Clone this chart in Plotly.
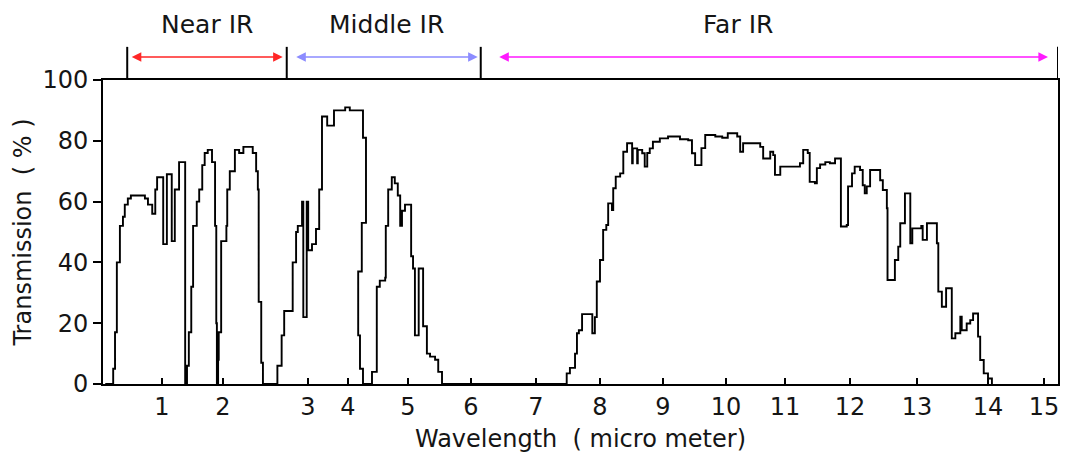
import numpy as np
import plotly.graph_objects as go

# ---------------- data ----------------
# Transmission trace, traced as a stepped line: wavelength (micrometer) where each level starts
wavelength_um = [
    0.07, 0.20, 0.23, 0.26, 0.31, 0.36, 0.39, 0.44, 0.49, 0.72, 0.77, 0.84, 0.89, 0.92,
    1.02, 1.08, 1.16, 1.21, 1.28, 1.38,
    1.41, 1.44, 1.48, 1.51, 1.57, 1.61, 1.66, 1.70, 1.75, 1.82, 1.87, 1.89, 1.90,
    1.92, 1.93, 1.97, 2.04, 2.05, 2.08, 2.14, 2.19, 2.24, 2.35, 2.39, 2.41, 2.42, 2.45, 2.47,
    2.64, 2.69, 2.72, 2.82, 2.86, 2.88, 2.93, 2.945, 2.985, 3.005, 3.10, 3.20, 3.28, 3.35,
    3.48, 3.65, 3.93, 4.03, 4.25, 4.30, 4.23, 4.17, 4.20, 4.25,
    4.35, 4.40, 4.48, 4.53, 4.62, 4.63, 4.67, 4.73, 4.78, 4.83, 4.87, 4.90, 4.95,
    5.05, 5.08, 5.11, 5.17, 5.24, 5.30, 5.35, 5.43, 5.48, 5.54,
    7.48, 7.53, 7.61, 7.64, 7.67, 7.72, 7.88, 7.92, 7.95, 8.00, 8.05, 8.10, 8.13, 8.19,
    8.21, 8.25, 8.32, 8.37, 8.43, 8.51, 8.52, 8.59, 8.60, 8.67, 8.71, 8.75, 8.79, 8.84,
    8.95, 9.08, 9.27, 9.40, 9.46, 9.51, 9.61, 9.67, 9.83, 9.94, 10.03, 10.19, 10.24,
    10.29, 10.58, 10.63, 10.75, 10.80, 10.83, 10.92, 11.23, 11.28, 11.35, 11.38, 11.46,
    11.49, 11.54, 11.62, 11.69, 11.77, 11.86, 11.95, 11.97, 12.03, 12.07, 12.15, 12.19,
    12.22, 12.25, 12.30, 12.45, 12.49, 12.55, 12.56, 12.67, 12.72, 12.75, 12.82, 12.90,
    12.93, 13.06, 13.08, 13.14, 13.28, 13.30, 13.35, 13.41, 13.49, 13.54, 13.61, 13.63,
    13.70, 13.75, 13.79, 13.86, 13.89, 13.94, 14.00, 14.07,
]
transmission_pct = [
    0, 5, 17, 40, 52, 55, 59, 61, 62, 61, 59, 56, 64, 68,
    46, 69, 47, 64, 73, 0,
    6, 17, 32, 52, 60, 64, 72, 76, 77, 73, 52, 20, 0,
    8, 17, 47, 52, 64, 70, 77, 76, 78, 76, 70, 64, 27, 7, 0,
    6, 16, 24, 40, 50, 52, 60, 22, 60, 44, 46, 51, 64, 88,
    85, 90, 91, 90, 81, 53, 37, 16, 5, 0,
    0, 4, 32, 34, 35, 52, 64, 68, 66, 62, 52, 57, 59,
    42, 38, 16, 38, 19, 10, 9, 8, 4, 0,
    3.5, 5.3, 10, 16.7, 17.7, 23, 16.7, 22, 33.7, 40.8, 50.7, 52.3, 59.4, 57.2,
    64.4, 68.2, 69.3, 76.4, 79.2, 72.6, 77.5, 72.6, 77, 75.9, 71.5, 76, 77.5, 79.7,
    80.8, 81.4, 80.5, 80.2, 75.9, 72, 77.6, 81.9, 81.4, 81, 82.5, 81.4, 76.4,
    79.2, 78, 74.2, 76.4, 75.3, 68.8, 71.5, 72.6, 77, 76, 66.5, 66,
    71, 72.2, 73, 72.6, 74.2, 51.8, 52.3, 65, 69.3, 71.5, 70.4, 65.4,
    62.7, 65, 70.4, 67, 63.8, 57.8, 34.2, 40.8, 45.2, 52.9, 62.7, 46.3,
    51.2, 52, 47.4, 52.9, 46.3, 30.4, 25.4, 31.5, 15, 16.7, 22.1, 17.7,
    19.9, 21, 23.2, 15.6, 7.9, 3.5, 1.8, 0,
]

# x tick labels (micrometer)
tick_um = [1, 2, 3, 4, 5, 6, 7, 8, 9, 10, 11, 12, 13, 14, 15]
tick_labels = [str(t) for t in tick_um]
y_ticks = [0, 20, 40, 60, 80, 100]

# IR bands above the chart
band_names = ["Near IR", "Middle IR", "Far IR"]
band_edges_um = [0.43, 2.75, 6.15, 15.25]
band_label_um = [1.74, 4.65, 10.2]

# ---------------- scale: the original axis is drawn piecewise (uneven tick spacing) ----------------
SCALE_UM = [0] + tick_um + [15.25]
SCALE_POS = [101, 162, 223, 308, 348, 408, 471, 536, 600, 663, 726, 785, 850, 917, 988, 1044, 1058]


def to_axis(um):
    return np.interp(um, SCALE_UM, SCALE_POS)


FONT = "DejaVu Sans, Arial, sans-serif"
TXT = "#151515"

fig = go.Figure()
fig.add_trace(go.Scatter(
    x=to_axis(np.array(wavelength_um)), y=transmission_pct, mode="lines",
    line=dict(color="black", width=1.9, shape="hv"), showlegend=False,
    hovertemplate="%{y}%<extra></extra>",
))

# band separators and arrows
y_top = 1.0
y_sep = 1.109
y_arrow = 1.0757
for e in band_edges_um:
    fig.add_shape(type="line", xref="x", yref="paper", x0=to_axis(e), x1=to_axis(e),
                  y0=y_top, y1=y_sep, line=dict(color="black", width=2))

arrow_colors = ["#ff2626", "#8c8cff", "#ff1aff"]
arrow_pad = [(3, 4), (8, 3), (17, 10)]
for i, name in enumerate(band_names):
    x0 = to_axis(band_edges_um[i]) + arrow_pad[i][0]
    x1 = to_axis(band_edges_um[i + 1]) - arrow_pad[i][1]
    fig.add_annotation(x=x1, y=y_arrow, xref="x", yref="paper", ax=x0, ay=0,
                       axref="x", ayref="pixel", text="", showarrow=True,
                       arrowhead=2, startarrowhead=2, arrowside="end+start",
                       arrowsize=1.2, startarrowsize=1.2, arrowwidth=1.6,
                       arrowcolor=arrow_colors[i])
    fig.add_annotation(x=to_axis(band_label_um[i]), y=1.181, xref="x", yref="paper",
                       text=name, showarrow=False, yanchor="middle",
                       font=dict(family=FONT, size=25, color=TXT))

# the page body adds an 8px offset, so the figure is sized/margined to compensate
fig.update_layout(
    width=1060, height=447,
    margin=dict(l=95, r=10, t=72, b=71),
    paper_bgcolor="white", plot_bgcolor="white",
    font=dict(family=FONT, size=24, color=TXT),
    xaxis=dict(
        range=[to_axis(0.033), to_axis(15.25)], automargin=False,
        tickvals=to_axis(np.array(tick_um)), ticktext=tick_labels,
        ticks="inside", ticklen=6, tickwidth=1.5, tickcolor="black",
        showline=True, linewidth=2, linecolor="black", mirror=True,
        showgrid=False, zeroline=False,
        tickfont=dict(family=FONT, size=24, color=TXT),
        title=dict(text="Wavelength  ( micro meter)", standoff=10,
                   font=dict(family=FONT, size=24, color=TXT)),
    ),
    yaxis=dict(
        range=[0, 100], tickvals=y_ticks, automargin=False,
        ticks="outside", ticklen=8, tickwidth=1.5, tickcolor="black",
        showline=True, linewidth=2, linecolor="black", mirror=True,
        showgrid=False, zeroline=False,
        tickfont=dict(family=FONT, size=24, color=TXT),
        title=dict(text="Transmission  ( % )", standoff=4,
                   font=dict(family=FONT, size=24, color=TXT)),
    ),
)

fig.write_html("out.html")
